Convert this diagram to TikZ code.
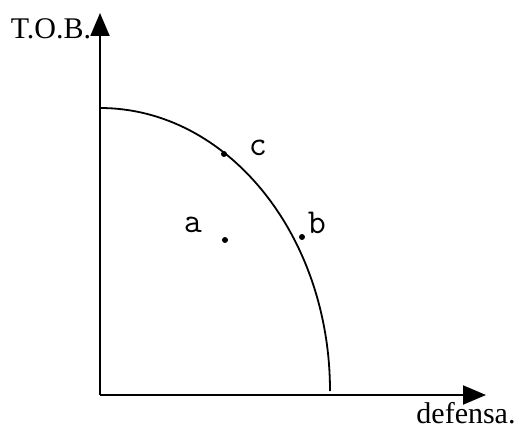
\documentclass[tikz,border=0pt]{standalone}
\usepackage{fontspec}
\setmainfont{Liberation Serif}
\usetikzlibrary{arrows.meta, positioning}

\begin{document}
\begin{tikzpicture}[x=1pt, y=1pt, >={Triangle[length=23pt, width=19pt]},
    axis/.style={->, line width=2pt},
    axislabel/.style={font=\fontsize{30}{31}\selectfont, inner sep=0pt, anchor=base},
    ptlabel/.style={font=\ttfamily\fontsize{35}{36}\selectfont, inner sep=0pt},
    ptdot/.style={circle, fill, inner sep=0pt, minimum size=6pt}]
  \useasboundingbox (0,0) rectangle (522,429);

  % axes
  \coordinate (O) at (100,34);
  \coordinate (ytip) at (100,416);
  \coordinate (xtip) at (486,34);
  \draw[axis] (O) -- (ytip);
  \draw[axis] (O) -- (xtip);
  \node[axislabel] (tob) at (51,390) {T.O.B.};
  \node[axislabel] (def) at (466,6) {defensa.};

  % frontier
  \coordinate (top) at (100,321);
  \draw[line width=1.8pt] (top) arc[start angle=90, end angle=0,
      x radius=230, y radius=283];

  % points
  \node[ptdot] (c) at (224,275) {};
  \node[ptdot] (a) at (225,189) {};
  \node[ptdot] (b) at (302,192) {};
  \node[ptlabel] (lc) at (258,281) {c};
  \node[ptlabel] (la) at (193,204) {a};
  \node[ptlabel] (lb) at (317,206) {b};
\end{tikzpicture}
\end{document}
